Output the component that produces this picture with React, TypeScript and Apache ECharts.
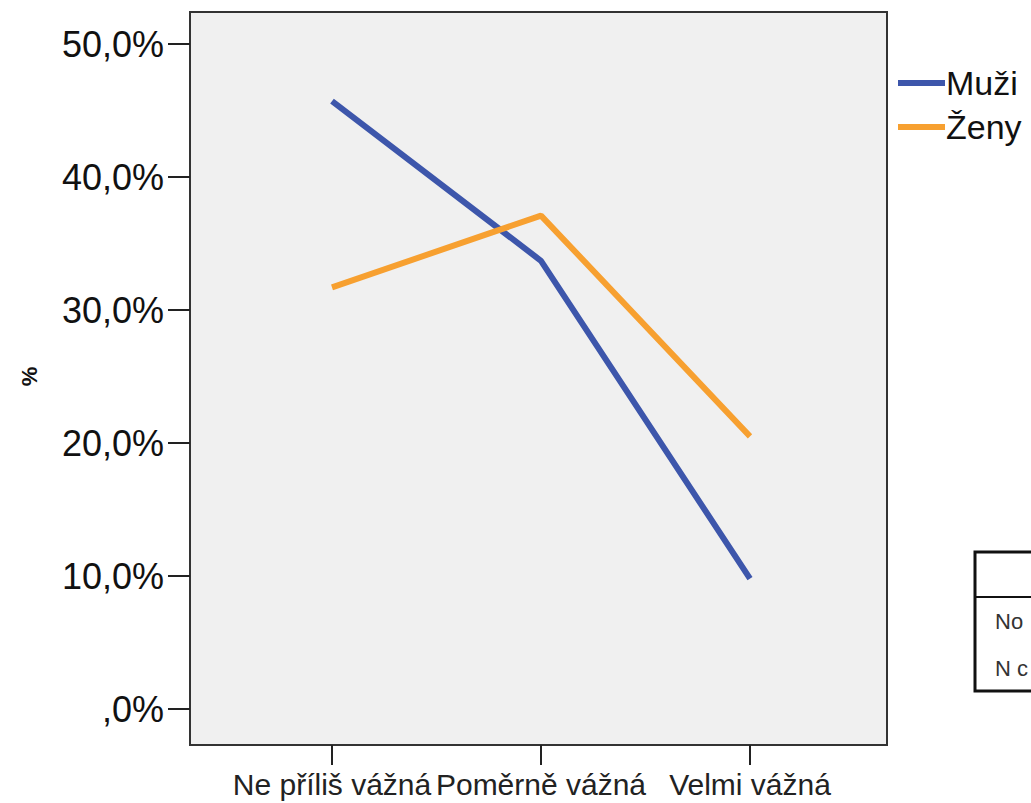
import React, { useEffect, useRef } from "react";
import * as echarts from "echarts";

const categories = ["Ne příliš vážná", "Poměrně vážná", "Velmi vážná"];
const muzi = [45.7, 33.7, 9.8];
const zeny = [31.7, 37.1, 20.5];

const FONT = "'Liberation Sans', Arial, sans-serif";
// frame spans from -2.707 % to 52.406 % (0 % at y=709, 50 % at y=44)
const PX_PER_UNIT = 665 / 50;
const FRAME_MIN = -36 / PX_PER_UNIT;
const FRAME_MAX = 50 + 32 / PX_PER_UNIT;

export default function App() {
  const ref = useRef<HTMLDivElement>(null);
  useEffect(() => {
    if (!ref.current) return;
    const chart = echarts.init(ref.current, undefined, { renderer: "svg" });
    chart.setOption({
      animation: false,
      backgroundColor: "#ffffff",
      grid: [
        { left: 190, right: 144, top: 44, bottom: 94 },
        { left: 332, right: 281, top: 12, bottom: 58 },
      ],
      xAxis: [
        { gridIndex: 0, type: "value", show: false, min: 0, max: 1 },
        {
          gridIndex: 1,
          type: "category",
          data: categories,
          boundaryGap: false,
          axisLine: { show: false, onZero: false },
          axisTick: { show: true, inside: false, length: 20, lineStyle: { color: "#222", width: 2 } },
          axisLabel: { fontFamily: FONT, fontSize: 30, color: "#222", margin: 24, interval: 0 },
        },
      ],
      yAxis: [
        {
          gridIndex: 0,
          type: "value",
          min: 0,
          max: 50,
          interval: 10,
          axisLine: { show: false },
          splitLine: { show: false },
          axisTick: { show: true, length: 22, lineStyle: { color: "#222", width: 2 } },
          axisLabel: {
            fontFamily: FONT,
            fontSize: 36,
            color: "#111",
            margin: 26,
            formatter: (v: number) => (v === 0 ? ",0%" : v.toFixed(1).replace(".", ",") + "%"),
          },
          name: "%",
          nameLocation: "middle",
          nameRotate: 90,
          nameGap: 150,
          nameTextStyle: { fontFamily: FONT, fontSize: 22, fontWeight: "bold", color: "#111" },
        },
        { gridIndex: 1, type: "value", min: FRAME_MIN, max: FRAME_MAX, show: false },
      ],
      legend: {
        left: 893,
        top: 60,
        orient: "vertical",
        icon: "rect",
        itemWidth: 47,
        itemHeight: 6,
        itemGap: 8,
        textStyle: { fontFamily: FONT, fontSize: 34, lineHeight: 36, color: "#111", padding: [0, 0, 0, -4] },
        data: ["Muži", "Ženy"],
      },
      graphic: [
        {
          type: "rect",
          z: -10,
          shape: { x: 190, y: 12, width: 697, height: 733 },
          style: { fill: "#f0f0f0", stroke: "#333", lineWidth: 2 },
        },
        {
          type: "rect",
          shape: { x: 975, y: 552, width: 80, height: 139 },
          style: { fill: "#ffffff", stroke: "#111", lineWidth: 3 },
        },
        {
          type: "line",
          shape: { x1: 975, y1: 597, x2: 1040, y2: 597 },
          style: { stroke: "#111", lineWidth: 2 },
        },
        {
          type: "text",
          x: 995,
          y: 621,
          style: { text: "No", fontFamily: FONT, fontSize: 22, fill: "#333", verticalAlign: "middle" },
        },
        {
          type: "text",
          x: 995,
          y: 668,
          style: { text: "N c", fontFamily: FONT, fontSize: 22, fill: "#333", verticalAlign: "middle" },
        },
      ],
      series: [
        {
          name: "Muži",
          type: "line",
          xAxisIndex: 1,
          yAxisIndex: 1,
          data: muzi,
          showSymbol: false,
          symbol: "none",
          lineStyle: { color: "#3d56ab", width: 6 },
          itemStyle: { color: "#3d56ab" },
        },
        {
          name: "Ženy",
          type: "line",
          xAxisIndex: 1,
          yAxisIndex: 1,
          data: zeny,
          showSymbol: false,
          symbol: "none",
          lineStyle: { color: "#f7a030", width: 6 },
          itemStyle: { color: "#f7a030" },
        },
      ],
    });
    return () => chart.dispose();
  }, []);
  return <div ref={ref} style={{ width: 1031, height: 803, position: "absolute", left: 0, top: 0 }} />;
}
